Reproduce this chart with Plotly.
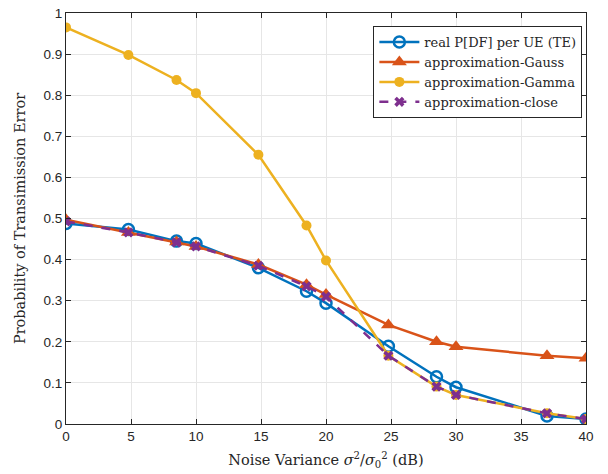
import plotly.graph_objects as go

x_db = [0, 4.8, 8.5, 10, 14.8, 18.5, 20, 24.8, 28.5, 30, 37, 40]
real_te = [0.488, 0.473, 0.445, 0.439, 0.380, 0.323, 0.294, 0.189, 0.115, 0.0895, 0.0195, 0.012]
approx_gauss = [0.497, 0.466, 0.443, 0.432, 0.388, 0.339, 0.315, 0.241, 0.200, 0.188, 0.166, 0.160]
approx_gamma = [0.965, 0.898, 0.837, 0.805, 0.655, 0.483, 0.398, 0.166, 0.091, 0.0707, 0.026, 0.012]
approx_close = [0.493, 0.466, 0.442, 0.432, 0.385, 0.335, 0.310, 0.166, 0.091, 0.0707, 0.026, 0.012]

names = ["real P[DF] per UE (TE)", "approximation-Gauss", "approximation-Gamma", "approximation-close"]
y_ticks = [0, 0.1, 0.2, 0.3, 0.4, 0.5, 0.6, 0.7, 0.8, 0.9, 1]
x_ticks = [0, 5, 10, 15, 20, 25, 30, 35, 40]

serif = "DejaVu Serif, Liberation Serif, serif"

fig = go.Figure()
fig.add_trace(go.Scatter(x=x_db, y=real_te, name=names[0], mode="lines+markers",
                         line=dict(color="#0072BD", width=2.5),
                         marker=dict(symbol="circle-open", size=11, line=dict(width=2.5, color="#0072BD"))))
fig.add_trace(go.Scatter(x=x_db, y=approx_gauss, name=names[1], mode="lines+markers",
                         line=dict(color="#D95319", width=2.5),
                         marker=dict(symbol="triangle-up", size=13, color="#D95319")))
fig.add_trace(go.Scatter(x=x_db, y=approx_gamma, name=names[2], mode="lines+markers",
                         line=dict(color="#EDB120", width=2.5),
                         marker=dict(symbol="circle", size=10, color="#EDB120")))
fig.add_trace(go.Scatter(x=x_db, y=approx_close, name=names[3], mode="lines+markers",
                         line=dict(color="#7E2F8E", width=2.5, dash="dash"),
                         marker=dict(symbol="x", size=9, color="#7E2F8E")))

axis_common = dict(showgrid=True, gridcolor="#e6e6e6", gridwidth=1, showline=True,
                   linecolor="#262626", linewidth=1, mirror="ticks", ticks="inside",
                   ticklen=5, tickcolor="#262626", zeroline=False, automargin=False,
                   tickfont=dict(family="Liberation Sans, Arial", size=13.5, color="#262626"))

fig.update_xaxes(range=[0, 40], tickvals=x_ticks, **axis_common,
                 title=dict(text="Noise Variance <i>σ</i><sup>2</sup>/<i>σ</i><sub>0</sub><sup>2</sup> (dB)",
                            font=dict(family=serif, size=14.5, color="#262626"),
                            standoff=11))
fig.update_yaxes(range=[0, 1], tickvals=y_ticks, ticktext=[("%g" % v) for v in y_ticks], **axis_common,
                 title=dict(text="Probability of Transimission Error",
                            font=dict(family=serif, size=14.5, color="#262626"),
                            standoff=14))

fig.update_layout(
    width=608, height=474,
    margin=dict(l=66, r=22, t=13, b=50),
    plot_bgcolor="white", paper_bgcolor="white",
    legend=dict(x=0.993, y=0.968, xanchor="right", yanchor="top",
                bgcolor="white", bordercolor="#262626", borderwidth=1,
                font=dict(family=serif, size=13, color="#262626"),
                tracegroupgap=0, itemwidth=40),
    showlegend=True,
)

fig.write_html("out.html")
